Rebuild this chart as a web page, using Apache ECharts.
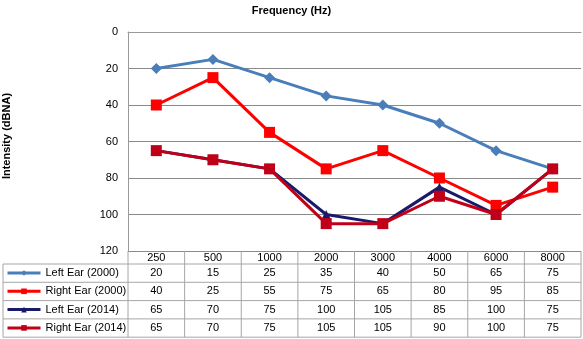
<!DOCTYPE html>
<html lang="en">
<head>
    <title>Audiogram</title>
    <meta charset="utf-8">
    <style>
        html, body {margin: 0; padding: 0; background: #fff;}
        #container {width: 583px; height: 339px;}
    </style>
</head>
<body>
<div id="container"></div>
<script src="https://cdn.jsdelivr.net/npm/echarts@6/dist/echarts.min.js"></script>
<script>
var categories = ['250', '500', '1000', '2000', '3000', '4000', '6000', '8000'];
var leftEar2000 = [20, 15, 25, 35, 40, 50, 65, 75];
var rightEar2000 = [40, 25, 55, 75, 65, 80, 95, 85];
var leftEar2014 = [65, 70, 75, 100, 105, 85, 100, 75];
var rightEar2014 = [65, 70, 75, 105, 105, 90, 100, 75];
var seriesNames = ['Left Ear (2000)', 'Right Ear (2000)', 'Left Ear (2014)', 'Right Ear (2014)'];
var seriesData = [leftEar2000, rightEar2000, leftEar2014, rightEar2014];
var seriesColors = ['#4a7ebb', '#ff0000', '#1a1a6a', '#c00018'];
var seriesSymbols = ['diamond', 'rect', 'triangle', 'rect'];
var symbolSizes = [11, 11, 9, 11];

var font = 'Liberation Sans, Arial, sans-serif';
var gridLeft = 128, gridTop = 32, gridHeight = 219, gridWidth = 453;
var headerH = 13, rowH = 18.3;

var myChart = echarts.init(document.getElementById('container'));

var series = seriesNames.map(function (name, i) {
    return {
        name: name,
        type: 'line',
        data: seriesData[i],
        symbol: seriesSymbols[i],
        symbolSize: symbolSizes[i],
        lineStyle: {width: 3, color: seriesColors[i]},
        itemStyle: {color: seriesColors[i]},
        animation: false
    };
});

var options = {
    animation: false,
    title: {
        text: 'Frequency (Hz)',
        left: 'center',
        top: 0,
        textStyle: {fontSize: 11, fontWeight: 'bold', color: '#000', fontFamily: font}
    },
    legend: {
        orient: 'vertical',
        left: 6,
        top: gridTop + gridHeight + headerH + 2,
        itemWidth: 33,
        itemHeight: 7,
        itemGap: rowH - 14,
        padding: 0,
        selectedMode: false,
        lineStyle: {width: 3},
        textStyle: {fontSize: 11, lineHeight: 14, height: 14, color: '#000', fontFamily: font},
        data: seriesNames
    },
    grid: {left: gridLeft, top: gridTop, width: gridWidth, height: gridHeight},
    xAxis: {
        type: 'category',
        data: categories,
        position: 'bottom',
        axisLine: {show: true, lineStyle: {color: '#9a9a9a', width: 1}},
        axisTick: {show: false},
        axisLabel: {margin: 1, fontSize: 11, color: '#000', fontFamily: font}
    },
    yAxis: {
        type: 'value',
        inverse: true,
        min: 0,
        max: 120,
        interval: 20,
        axisLine: {show: true, lineStyle: {color: '#9a9a9a', width: 1}},
        axisTick: {show: false},
        axisLabel: {margin: 10, fontSize: 11, color: '#000', fontFamily: font},
        splitLine: {show: true, lineStyle: {color: '#8a8a8a', width: 1}}
    },
    series: series
};

myChart.setOption(options);

// data table under the plot, positioned from the category axis
var graphics = [];
var bottom = gridTop + gridHeight;
var bodyTop = bottom + headerH;
var tableBottom = bodyTop + rowH * seriesNames.length;
var lineStyle = {stroke: '#a6a6a6', lineWidth: 1};
var half = gridWidth / categories.length / 2;
var xs = categories.map(function (c) {
    return myChart.convertToPixel({xAxisIndex: 0}, c);
});

// vertical separators
xs.forEach(function (x) {
    graphics.push({type: 'line', shape: {x1: x - half, y1: bottom, x2: x - half, y2: tableBottom}, style: lineStyle, silent: true});
});
graphics.push({type: 'line', shape: {x1: gridLeft + gridWidth, y1: bottom, x2: gridLeft + gridWidth, y2: tableBottom}, style: lineStyle, silent: true});
graphics.push({type: 'line', shape: {x1: 3, y1: bodyTop, x2: 3, y2: tableBottom}, style: lineStyle, silent: true});
// horizontal separators
for (var r = 0; r <= seriesNames.length; r++) {
    var y = bodyTop + r * rowH;
    graphics.push({type: 'line', shape: {x1: 3, y1: y, x2: gridLeft + gridWidth, y2: y}, style: lineStyle, silent: true});
}
// cell values
seriesData.forEach(function (vals, r) {
    vals.forEach(function (v, j) {
        graphics.push({
            type: 'text',
            x: xs[j],
            y: bodyTop + r * rowH + rowH / 2,
            silent: true,
            style: {text: String(v), fill: '#000', font: '11px ' + font, align: 'center', verticalAlign: 'middle'}
        });
    });
});
// y axis title
graphics.push({
    type: 'text',
    x: 7,
    y: 136,
    rotation: Math.PI / 2,
    silent: true,
    style: {text: 'Intensity (dBNA)', fill: '#000', font: 'bold 11px ' + font, align: 'center', verticalAlign: 'middle'}
});

myChart.setOption({graphic: graphics});
</script>
</body>
</html>
